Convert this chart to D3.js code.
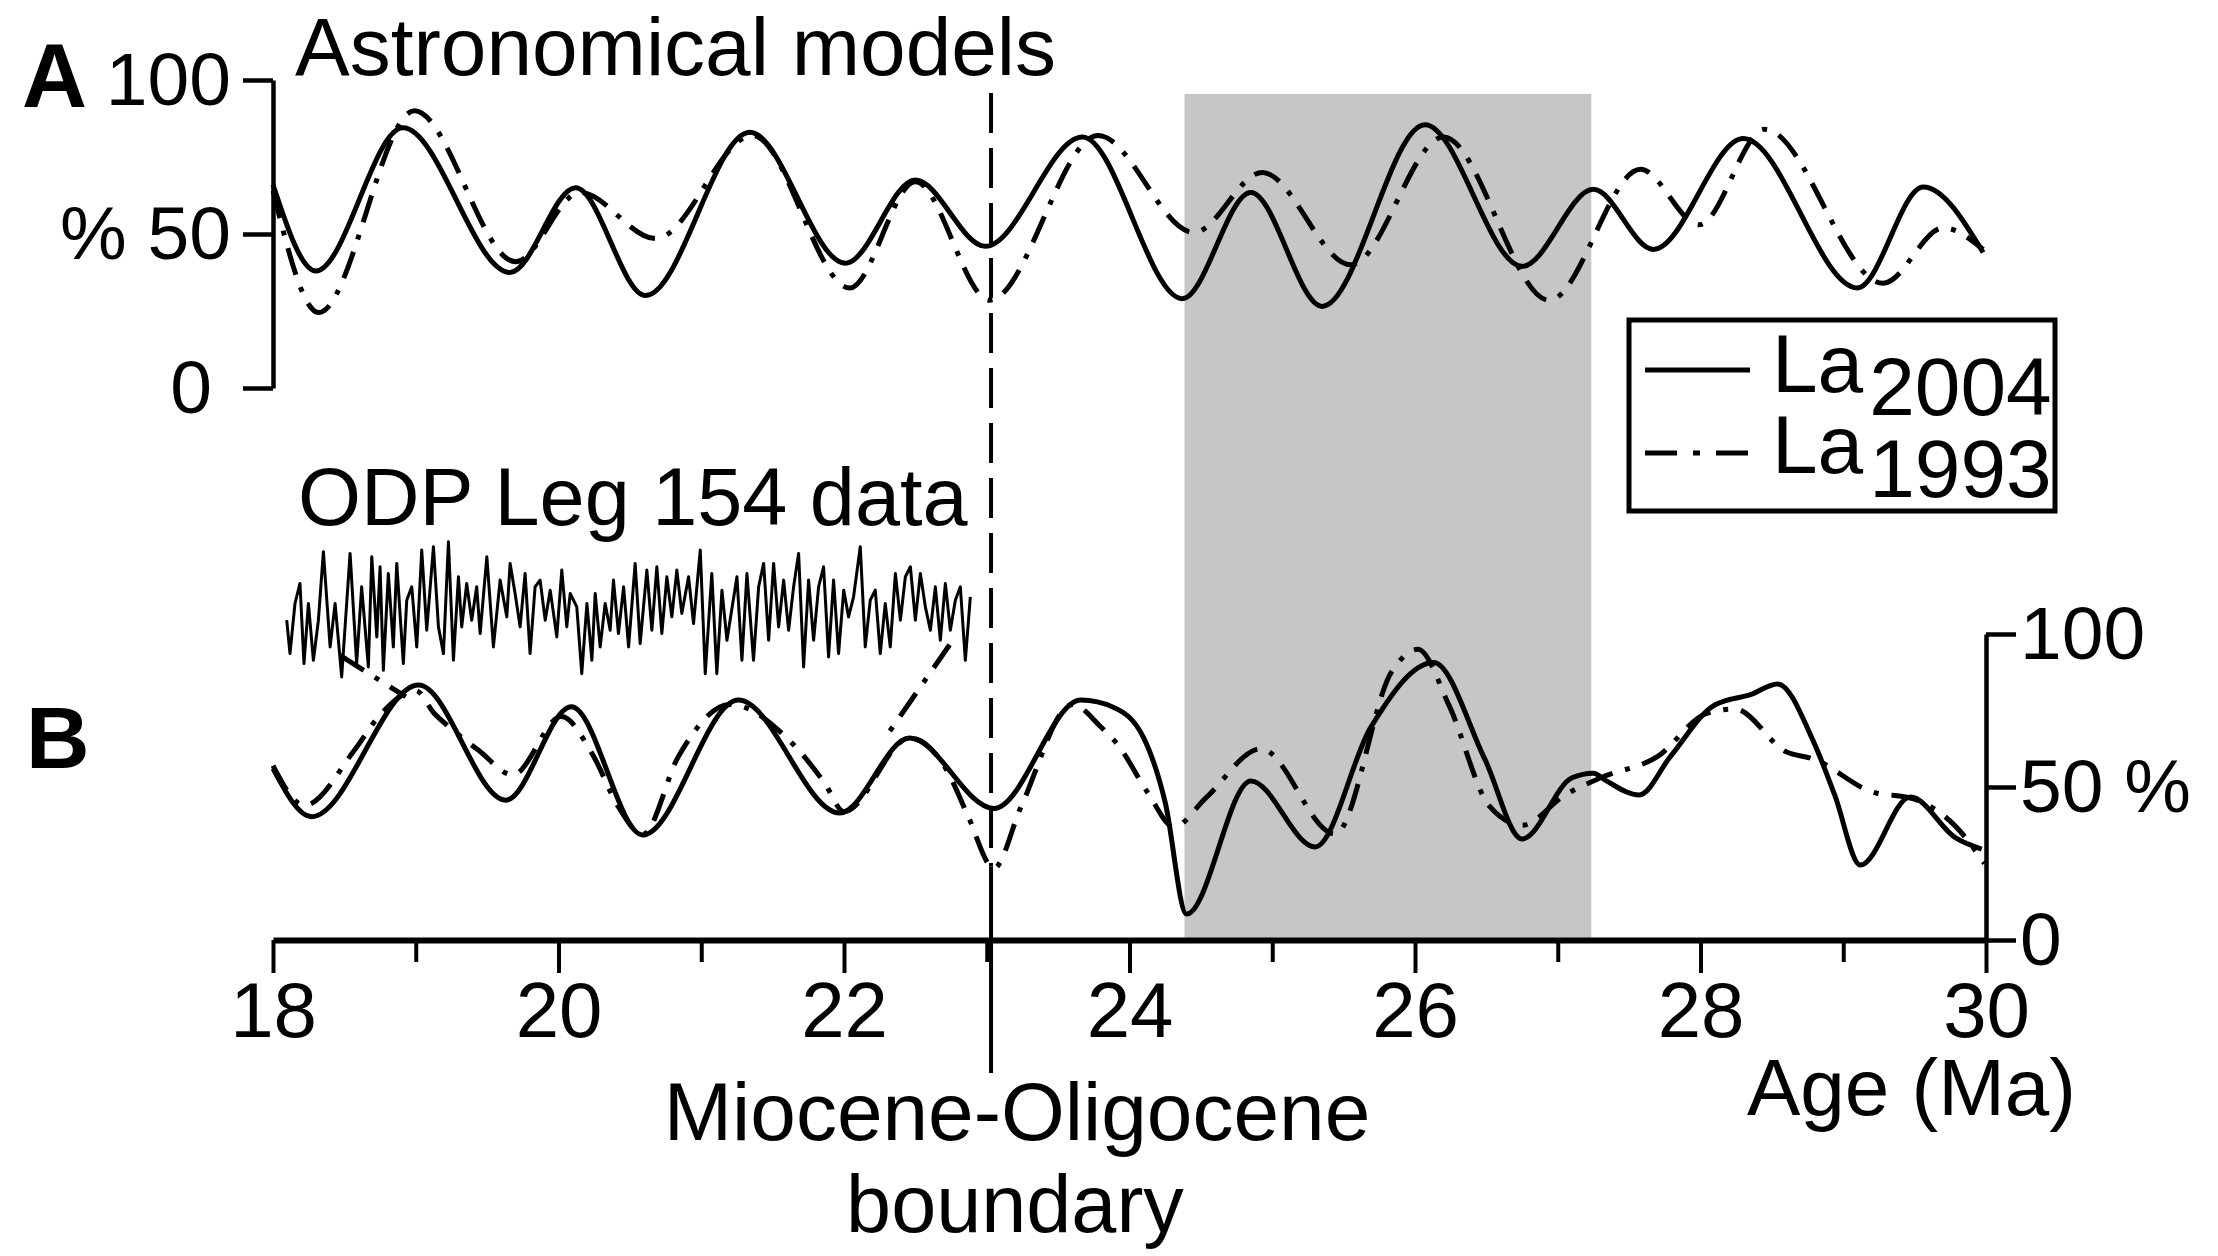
<!DOCTYPE html>
<html>
<head>
<meta charset="utf-8">
<script src="https://cdn.jsdelivr.net/npm/d3@7"></script>
<style>
  html, body { margin: 0; padding: 0; background: #ffffff; }
  svg { display: block; }
  text { font-family: "Liberation Sans", Arial, Helvetica, sans-serif; fill: #000; }
</style>
</head>
<body>
<svg id="chart" width="2218" height="1256"></svg>
<script>
// ---- Panel A: insolation models (% of range) vs age (Ma) ----
const la2004AAge = [18.00, 18.30, 18.91, 19.66, 20.12, 20.61, 21.34, 22.01, 22.50, 22.99, 23.67, 24.37, 24.85, 25.35, 26.07, 26.75, 27.25, 27.67, 28.30, 29.10, 29.56, 29.98];
const la2004AVal = [66, 38, 84.5, 37.5, 65, 30, 83, 40.5, 67.5, 46, 81.5, 29, 63.5, 26.5, 85.5, 39.5, 64.5, 45, 81, 32.5, 65.3, 44];

const la1993AAge = [18.00, 18.32, 18.99, 19.70, 20.15, 20.68, 21.36, 22.04, 22.50, 23.02, 23.78, 24.45, 24.93, 25.55, 26.20, 26.94, 27.58, 27.99, 28.45, 29.28, 29.70, 29.98];
const la1993AVal = [64, 24.5, 90, 41, 63.5, 48.5, 82, 32.5, 67, 28.5, 82, 50.5, 70, 40, 81.5, 28.5, 71, 53, 84, 34, 52, 45];

// ---- Panel B: tuned models (% of range) vs age (Ma) ----
const la2004BAge = [18.00, 18.27, 19.02, 19.63, 20.09, 20.59, 21.26, 21.97, 22.46, 23.05, 23.66, 23.89, 24.10, 24.25, 24.40, 24.85, 25.30, 25.69, 26.13, 26.49, 26.75, 27.10, 27.25, 27.34, 27.57, 27.79, 28.09, 28.19, 28.34, 28.54, 28.79, 28.94, 29.12, 29.47, 29.79, 29.97];
const la2004BVal = [56, 40.3, 83.3, 45.7, 76.2, 34.3, 78.4, 41.5, 66, 43, 78.4, 76, 66, 45, 8.5, 52, 30.4, 69.5, 90.7, 59, 33, 53, 54.5, 52, 47.4, 60, 76.5, 78.4, 80, 83.7, 65, 47.4, 24.5, 46.7, 33.3, 29.7];

const la1993BAge = [18.00, 18.22, 18.57, 18.74, 19.00, 19.13, 19.25, 19.44, 19.68, 20.02, 20.24, 20.42, 20.59, 20.84, 21.20, 21.60, 21.86, 22.00, 22.46, 22.72, 22.86, 23.05, 23.24, 23.60, 23.80, 23.92, 24.13, 24.31, 24.54, 24.92, 25.44, 25.84, 26.02, 26.24, 26.52, 26.75, 27.05, 27.30, 27.70, 28.04, 28.24, 28.60, 28.80, 29.19, 29.50, 29.79, 29.99];
const la1993BVal = [57, 44, 62, 73, 81.5, 74, 69, 62, 54, 73, 60.5, 43.5, 34.5, 60, 77, 66, 51.6, 42, 66, 55.5, 41.5, 23.5, 43.5, 77, 69.6, 63.7, 48, 37, 46.7, 62.5, 34.6, 88, 95, 76.5, 43.8, 37.5, 47.4, 53, 60, 74, 75.5, 61.5, 59, 48.6, 46, 37, 25];

// ---- ODP Leg 154 record (relative units) ----
const odpAge = [18.096, 18.119, 18.154, 18.189, 18.217, 18.248, 18.283, 18.318, 18.353, 18.400,
  18.435, 18.481, 18.540, 18.586, 18.621, 18.668, 18.692, 18.727, 18.750, 18.773,
  18.808, 18.843, 18.867, 18.913, 18.937, 18.972, 19.007, 19.042, 19.077, 19.124,
  19.159, 19.194, 19.229, 19.264, 19.299, 19.322, 19.357, 19.392, 19.427, 19.451,
  19.498, 19.544, 19.591, 19.638, 19.661, 19.696, 19.731, 19.766, 19.801, 19.836,
  19.871, 19.907, 19.942, 19.988, 20.023, 20.058, 20.082, 20.128, 20.163, 20.199,
  20.234, 20.257, 20.292, 20.327, 20.362, 20.385, 20.420, 20.456, 20.491,
  20.537, 20.572, 20.619, 20.654, 20.689, 20.724, 20.759, 20.794, 20.829, 20.864,
  20.911, 20.946, 20.993, 21.028, 21.074, 21.109, 21.145, 21.180, 21.250, 21.285,
  21.320, 21.366, 21.402, 21.437, 21.472, 21.507, 21.542, 21.577, 21.612, 21.647,
  21.682, 21.717, 21.752, 21.787, 21.822, 21.857, 21.892, 21.927, 21.962, 21.998,
  22.032, 22.067, 22.114, 22.149, 22.184, 22.219, 22.254, 22.289, 22.324, 22.360,
  22.395, 22.430, 22.465, 22.500, 22.535, 22.570, 22.605, 22.640, 22.675, 22.710,
  22.745, 22.780, 22.815, 22.850, 22.885];
const odpVal = [40, 20, 50, 62, 14, 50, 16, 40, 81, 24,
  50, 6, 80, 14, 60, 12, 78, 30, 72, 10,
  68, 24, 74, 14, 52, 60, 24, 82, 34, 84,
  36, 20, 87, 16, 66, 36, 62, 40, 60, 32,
  78, 24, 64, 42, 74, 56, 36, 68, 20, 60,
  64, 40, 58, 30, 70, 36, 56, 48, 8, 50,
  16, 56, 24, 50, 34, 64, 32, 60, 24,
  74, 26, 70, 34, 72, 32, 66, 42, 70, 44,
  66, 38, 82, 8, 68, 8, 58, 28, 66, 16,
  68, 16, 60, 74, 28, 74, 36, 64, 34, 60,
  80, 12, 64, 28, 60, 72, 18, 64, 20, 58,
  42, 54, 84, 24, 52, 58, 20, 50, 24, 68,
  40, 66, 72, 40, 68, 48, 34, 60, 28, 62,
  34, 52, 60, 16, 54];

// ---- Connectors from the ODP record down to panel B (age, % on B scale) ----
const connectorLeft = [[18.47, 93], [18.93, 79.5]];
const connectorRight = [[22.74, 96.5], [22.28, 65.5]];

// ---- Reference marks ----
const boundaryAge = 23.03;          // Miocene–Oligocene boundary
const shadeAge = [24.385, 27.235];  // highlighted interval
const shadeTopPct = 95.5;           // top of shaded band on panel A scale

// ---- Axis ticks ----
const ageTicks = [18, 19, 20, 21, 22, 23, 24, 25, 26, 27, 28, 29, 30];
const pctTicks = [0, 50, 100];
const pctLabelsA = { 0: "0", 50: "% 50", 100: "100" };
const pctLabelsB = { 0: "0", 50: "50 %", 100: "100" };

// ---- Legend ----
const legendLabels = [
  { base: "La", sub: "2004", dash: null },
  { base: "La", sub: "1993", dash: "32,16,7,16" }
];

// ================= drawing =================
const svg = d3.select("#chart");
const x = d3.scaleLinear().domain([18, 30]).range([273, 1986]);
const yA = d3.scaleLinear().domain([0, 100]).range([388, 80]);
const yB = d3.scaleLinear().domain([0, 100]).range([940, 634]);
const yOdp = d3.scaleLinear().domain([0, 100]).range([687, 520]);

const DASHDOT = "28,13,5,13";
const STROKE = 5;

// shaded interval
svg.append("rect")
  .attr("x", x(shadeAge[0]))
  .attr("y", yA(shadeTopPct))
  .attr("width", x(shadeAge[1]) - x(shadeAge[0]))
  .attr("height", yB(0) - yA(shadeTopPct))
  .attr("fill", "#c6c6c6");

function curve(ages, vals, yScale, dash) {
  const line = d3.line()
    .x(d => x(d[0]))
    .y(d => yScale(d[1]))
    .curve(d3.curveMonotoneX);
  svg.append("path")
    .datum(d3.zip(ages, vals))
    .attr("d", line)
    .attr("fill", "none")
    .attr("stroke", "#000")
    .attr("stroke-width", STROKE)
    .attr("stroke-linejoin", "round")
    .attr("stroke-dasharray", dash);
}

curve(la1993AAge, la1993AVal, yA, DASHDOT);
curve(la2004AAge, la2004AVal, yA, null);
curve(la1993BAge, la1993BVal, yB, DASHDOT);
curve(la2004BAge, la2004BVal, yB, null);

// connectors
[connectorLeft, connectorRight].forEach(seg => {
  svg.append("path")
    .datum(seg)
    .attr("d", d3.line().x(d => x(d[0])).y(d => yB(d[1])))
    .attr("fill", "none")
    .attr("stroke", "#000")
    .attr("stroke-width", STROKE)
    .attr("stroke-dasharray", DASHDOT);
});

// ODP record
svg.append("path")
  .datum(d3.zip(odpAge, odpVal))
  .attr("d", d3.line().x(d => x(d[0])).y(d => yOdp(d[1])))
  .attr("fill", "none")
  .attr("stroke", "#000")
  .attr("stroke-width", 3)
  .attr("stroke-linejoin", "round");

// boundary line: dashed through both panels, solid at the bottom
const bx = x(boundaryAge);
svg.append("line")
  .attr("x1", bx).attr("x2", bx)
  .attr("y1", yA(95.8)).attr("y2", yB(24))
  .attr("stroke", "#000").attr("stroke-width", 4)
  .attr("stroke-dasharray", "40,15");
svg.append("line")
  .attr("x1", bx).attr("x2", bx)
  .attr("y1", yB(24)).attr("y2", yB(0) + 133)
  .attr("stroke", "#000").attr("stroke-width", 4);

// axes
function styleAxis(g, fontSize) {
  g.selectAll("path.domain").attr("stroke", "#000");
  g.selectAll(".tick line").attr("stroke", "#000");
  g.selectAll(".tick text")
    .attr("font-size", fontSize)
    .attr("font-family", "Liberation Sans, Arial, sans-serif")
    .attr("fill", "#000");
}

const axA = svg.append("g")
  .attr("transform", `translate(${x(18)},0)`)
  .call(d3.axisLeft(yA).tickValues(pctTicks).tickSize(30).tickSizeOuter(0).tickPadding(12)
    .tickFormat(d => pctLabelsA[d]));
styleAxis(axA, 75);
axA.selectAll("path.domain").attr("stroke-width", 4.5);
axA.selectAll(".tick line").attr("stroke-width", 4.5);
axA.selectAll(".tick text").filter(d => d === 0).attr("dx", -19);

const axB = svg.append("g")
  .attr("transform", `translate(${x(30)},0)`)
  .call(d3.axisRight(yB).tickValues(pctTicks).tickSize(30).tickSizeOuter(0).tickPadding(4)
    .tickFormat(d => pctLabelsB[d]));
styleAxis(axB, 75);
axB.selectAll("path.domain").attr("stroke-width", 4.5);
axB.selectAll(".tick line").attr("stroke-width", 4.5);

const axX = svg.append("g")
  .attr("transform", `translate(0,${yB(0)})`)
  .call(d3.axisBottom(x).tickValues(ageTicks).tickSize(33).tickSizeOuter(0).tickPadding(3)
    .tickFormat(d => (d % 2 === 0 ? d : "")));
styleAxis(axX, 78);
axX.selectAll("path.domain").attr("stroke-width", 6);
axX.selectAll(".tick line").attr("stroke-width", 4)
  .filter(d => d % 2 !== 0).attr("y2", 22);
axX.selectAll(".tick text").attr("dy", "0.78em");

// panel letters and annotations
svg.append("text").attr("x", 22).attr("y", 107)
  .attr("font-size", 90).attr("font-weight", "bold").text("A");
svg.append("text").attr("x", 26).attr("y", 768)
  .attr("font-size", 88).attr("font-weight", "bold").text("B");

svg.append("text").attr("x", 295).attr("y", 75)
  .attr("font-size", 82).text("Astronomical models");
svg.append("text").attr("x", 298).attr("y", 525)
  .attr("font-size", 81).text("ODP Leg 154 data");
svg.append("text").attr("x", 1747).attr("y", 1115)
  .attr("font-size", 80).text("Age (Ma)");
svg.append("text").attr("x", 1017).attr("y", 1140)
  .attr("font-size", 82).attr("text-anchor", "middle").text("Miocene-Oligocene");
svg.append("text").attr("x", 1015).attr("y", 1232)
  .attr("font-size", 81).attr("text-anchor", "middle").text("boundary");

// legend
const lg = svg.append("g");
lg.append("rect")
  .attr("x", 1629).attr("y", 320).attr("width", 426).attr("height", 191)
  .attr("fill", "#fff").attr("stroke", "#000").attr("stroke-width", 5);
const rowY = [370, 453];
const baseY = [392, 473];
const subY = [415, 497];
legendLabels.forEach((item, i) => {
  lg.append("line")
    .attr("x1", 1645).attr("x2", 1750)
    .attr("y1", rowY[i]).attr("y2", rowY[i])
    .attr("stroke", "#000").attr("stroke-width", STROKE)
    .attr("stroke-dasharray", item.dash);
  const t = lg.append("text").attr("x", 1772).attr("y", baseY[i]).attr("font-size", 82);
  t.append("tspan").text(item.base);
  t.append("tspan").attr("dy", subY[i] - baseY[i]).attr("dx", 6).text(item.sub);
});
</script>
</body>
</html>
